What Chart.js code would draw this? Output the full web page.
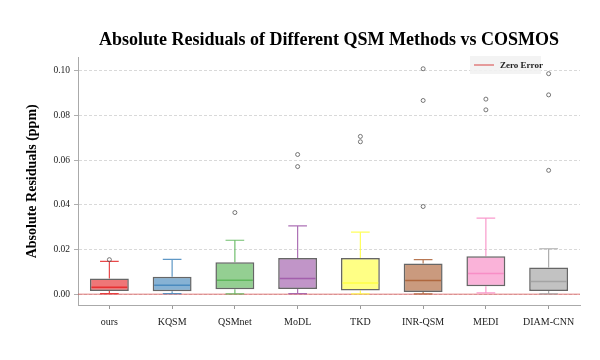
<!DOCTYPE html>
<html><head><meta charset="utf-8">
<script src="https://cdn.jsdelivr.net/npm/chart.js@4"></script>
<style>html,body{margin:0;padding:0;background:#fff}</style>
</head><body>
<canvas id="c" width="600" height="360"></canvas>
<script>
const categories = ['ours','KQSM','QSMnet','MoDL','TKD','INR-QSM','MEDI','DIAM-CNN'];
const whiskerLow  = [0.0003, 0.0003, 0.0002, 0.0003, 0.0002, 0.0002, 0.0006, 0.0002];
const q1          = [0.0015, 0.00135,0.0023, 0.0024, 0.0017, 0.0010, 0.0036, 0.0015];
const median      = [0.0032, 0.0041, 0.0063, 0.0071, 0.0051, 0.0062, 0.0093, 0.0057];
const q3          = [0.0071, 0.0078, 0.0143, 0.0162, 0.0162, 0.0138, 0.0170, 0.0120];
const whiskerHigh = [0.0147, 0.0156, 0.0242, 0.0306, 0.0278, 0.0155, 0.0341, 0.0204];
const outlierValues = [[0.0155],[],[0.0366],[0.0626,0.0572],[0.0707,0.0683],[0.101,0.0868,0.0393],[0.0874,0.0826],[0.0988,0.0893,0.0555]];
const yTicks = [0, 0.02, 0.04, 0.06, 0.08, 0.10];

const baseColors = [[228,26,28],[55,126,184],[77,175,74],[152,78,163],[255,255,51],[166,86,40],[247,129,191],[153,153,153]];
const rgba = (c,a)=>`rgba(${c[0]},${c[1]},${c[2]},${a})`;
const FONT = "'Liberation Serif', 'Times New Roman', serif";
const zeroColor = 'rgba(214,60,60,0.45)';

const boxPlugin = {
  id: 'boxparts',
  beforeDatasetsDraw(chart){
    const {ctx, chartArea:a, scales:{x,y}} = chart;
    ctx.save();
    const y0 = y.getPixelForValue(0);
    ctx.strokeStyle = zeroColor; ctx.lineWidth = 1.5;
    ctx.beginPath(); ctx.moveTo(a.left,y0); ctx.lineTo(a.right,y0); ctx.stroke();
    const meta = chart.getDatasetMeta(0);
    categories.forEach((c,i)=>{
      const cx = x.getPixelForValue(i);
      const bw = meta.data[i].width;
      const cw = bw*0.48;
      ctx.strokeStyle = rgba(baseColors[i],0.8); ctx.lineWidth = 1.2;
      const yl = y.getPixelForValue(whiskerLow[i]), yq1 = y.getPixelForValue(q1[i]);
      const yh = y.getPixelForValue(whiskerHigh[i]), yq3 = y.getPixelForValue(q3[i]);
      ctx.beginPath();
      ctx.moveTo(cx,yq1); ctx.lineTo(cx,yl);
      ctx.moveTo(cx,yq3); ctx.lineTo(cx,yh);
      ctx.moveTo(cx-cw/2,yl); ctx.lineTo(cx+cw/2,yl);
      ctx.moveTo(cx-cw/2,yh); ctx.lineTo(cx+cw/2,yh);
      ctx.stroke();
    });
    ctx.restore();
  },
  afterDatasetsDraw(chart){
    const {ctx, scales:{x,y}} = chart;
    const meta = chart.getDatasetMeta(0);
    ctx.save();
    categories.forEach((c,i)=>{
      const cx = x.getPixelForValue(i);
      const bw = meta.data[i].width - 3;
      const ym = y.getPixelForValue(median[i]);
      ctx.strokeStyle = rgba(baseColors[i],0.75); ctx.lineWidth = 1.5;
      ctx.beginPath(); ctx.moveTo(cx-bw/2,ym); ctx.lineTo(cx+bw/2,ym); ctx.stroke();
    });
    ctx.restore();
  },
  afterDraw(chart){
    const {ctx} = chart;
    ctx.save();
    ctx.fillStyle = 'rgba(242,242,242,0.9)';
    ctx.fillRect(470,56,71,18);
    ctx.strokeStyle = 'rgba(214,60,60,0.8)'; ctx.lineWidth = 1.2;
    ctx.beginPath(); ctx.moveTo(474,65); ctx.lineTo(494,65); ctx.stroke();
    ctx.fillStyle = '#222'; ctx.font = "bold 9px " + FONT; ctx.textBaseline='middle';
    ctx.fillText('Zero Error', 500, 65.5);
    ctx.restore();
  }
};

const outlierPoints = [];
outlierValues.forEach((arr,i)=>arr.forEach(v=>outlierPoints.push({x:categories[i], y:v})));

new Chart(document.getElementById('c'), {
  type: 'bar',
  data: {
    labels: categories,
    datasets: [
      {
        label: 'IQR',
        data: categories.map((c,i)=>[q1[i], q3[i]]),
        backgroundColor: baseColors.map(c=>rgba(c,0.6)),
        borderColor: 'rgba(85,85,85,0.9)',
        borderWidth: 1.5,
        borderSkipped: false,
        categoryPercentage: 1,
        barPercentage: 0.62,
        grouped: false
      },
      {
        type: 'line',
        label: 'Outliers',
        data: outlierPoints,
        showLine: false,
        pointRadius: 2,
        pointBorderWidth: 0.8,
        pointBorderColor: '#555',
        pointBackgroundColor: 'rgba(0,0,0,0)'
      }
    ]
  },
  options: {
    responsive: false,
    animation: false,
    layout: {padding: {top: 30, left: 20, right: 20, bottom: 0}},
    plugins: {
      legend: {display: false},
      tooltip: {enabled: false},
      title: {
        display: true, fullSize: false,
        text: 'Absolute Residuals of Different QSM Methods vs COSMOS',
        font: {family: FONT, size: 18, weight: 'bold'},
        color: '#000',
        padding: {top: 0, bottom: 6}
      }
    },
    scales: {
      x: {
        offset: true,
        grid: {display: true, offset: false, drawOnChartArea: false, drawTicks: true, tickLength: 4, tickColor: '#999'},
        border: {display: true, color: '#aaa', width: 1},
        ticks: {font: {family: FONT, size: 10}, color: '#222', padding: 7},
        afterFit(s){ s.height = 55; }
      },
      y: {
        min: -0.0048, max: 0.106,
        afterBuildTicks(s){ s.ticks = yTicks.map(v=>({value:v})); },
        ticks: {callback: v=>Number(v).toFixed(2), font: {family: FONT, size: 9.5}, color: '#222', padding: 4},
        grid: {color: '#cfcfcf', lineWidth: 0.8, tickColor: '#999', tickLength: 4, tickBorderDash: []},
        border: {display: true, color: '#aaa', width: 1, dash: [3,2]},
        title: {display: true, text: 'Absolute Residuals (ppm)', font: {family: FONT, size: 14, weight: 'bold'}, color: '#000', padding: {top: 4, bottom: 0}},
        afterFit(s){ s.width = 58; }
      }
    }
  },
  plugins: [boxPlugin]
});
</script>
</body></html>
